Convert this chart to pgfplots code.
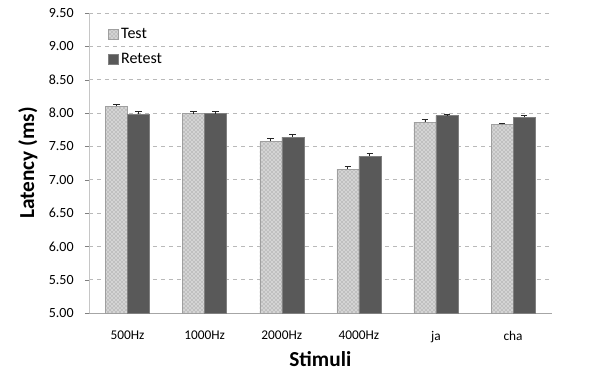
\documentclass[border=0pt]{standalone}
\usepackage{fontspec}
\setmainfont{Carlito}
\usepackage{pgfplots}
\pgfplotsset{compat=1.18}
\usetikzlibrary{patterns}
\definecolor{retest}{HTML}{595959}
\definecolor{testfill}{HTML}{D4D4D4}
\begin{document}
\begin{tikzpicture}
\begin{axis}[
  name=ax,
  scale only axis, width=347pt, height=225pt,
  ymin=5, ymax=9.5, ytick={5,5.5,...,9.5},
  xmin=-0.5, xmax=5.5, xtick={0,...,5},
  xticklabels={500Hz,1000Hz,2000Hz,4000Hz,ja,cha},
  ybar=0pt, bar width=16.5pt,
  axis x line=bottom, axis y line=left,
  x axis line style={-, gray!70},
  y axis line style={-, gray!45},
  ymajorgrids, grid style={dashed, gray!55},
  tick align=outside, major tick length=3pt,
  ytick style={gray}, xtick style={draw=none},
  /pgf/number format/assume math mode=true,
  yticklabel style={/pgf/number format/.cd, fixed, fixed zerofill, precision=2, /tikz/.cd, font=\fontsize{10.5}{12}\selectfont, xshift=-5pt},
  xticklabel style={font=\fontsize{10}{12}\selectfont, yshift=-7pt},
  xlabel={\textbf{Stimuli}},
  ylabel={\textbf{Latency (ms)}},
  xlabel style={at={(axis description cs:0.5,0)}, anchor=center, yshift=-34.5pt, font=\fontsize{16}{18}\selectfont},
  ylabel style={at={(axis description cs:0,0.5)}, anchor=center, yshift=45.75pt, font=\fontsize{16}{18}\selectfont},
  legend style={at={(axis description cs:0,1)}, anchor=north west, xshift=11pt, yshift=-7pt, draw=none, fill=none, font=\fontsize{12}{14}\selectfont, row sep=6pt, cells={anchor=west}},
  legend image code/.code={\draw[#1] (0pt,-3.75pt) rectangle (7.5pt,3.75pt);},
  error bars/y dir=plus, error bars/y explicit,
  error bars/error bar style={black!85, line width=0.6pt},
  error bars/error mark options={rotate=90, mark size=2.5pt, black!85, line width=0.6pt},
]
\addplot[fill=testfill, draw=gray!75, postaction={pattern=crosshatch dots, pattern color=gray}]
  coordinates {(0,8.10) +- (0,0.03) (1,7.99) +- (0,0.04) (2,7.58) +- (0,0.045) (3,7.16) +- (0,0.045) (4,7.86) +- (0,0.045) (5,7.83) +- (0,0.02)};
\addplot[fill=retest, draw=gray]
  coordinates {(0,7.98) +- (0,0.04) (1,7.99) +- (0,0.04) (2,7.64) +- (0,0.04) (3,7.35) +- (0,0.04) (4,7.96) +- (0,0.02) (5,7.94) +- (0,0.03)};
\legend{Test,Retest}
\end{axis}
\pgfresetboundingbox
\path (ax.south west) ++(-66.75pt,-50.25pt) rectangle ++(450pt,285pt);
\end{tikzpicture}
\end{document}
